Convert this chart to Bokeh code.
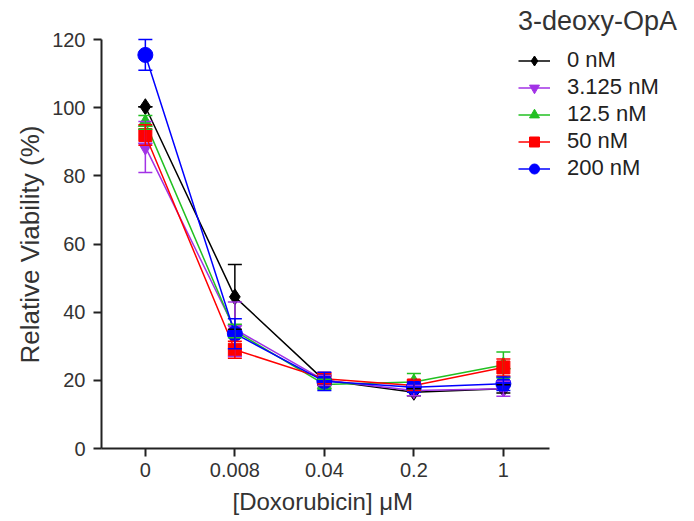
from bokeh.plotting import figure
from bokeh.models import (Range1d, FixedTicker, Legend, LegendItem, Whisker,
                          ColumnDataSource, TeeHead, Title)
from bokeh.embed import file_html
from bokeh.resources import INLINE

# ---- data ----
doses = ["0", "0.008", "0.04", "0.2", "1"]
series_names = ["0 nM", "3.125 nM", "12.5 nM", "50 nM", "200 nM"]
v_0 = [100.3, 44.5, 20.0, 16.5, 17.5]
e_0 = [0.0, 9.5, 1.5, 1.0, 1.2]
v_3 = [88.5, 35.0, 20.0, 17.0, 17.5]
e_3 = [7.5, 8.0, 1.5, 1.5, 2.2]
v_12 = [95.7, 34.5, 18.8, 19.5, 24.5]
e_12 = [2.0, 2.0, 1.5, 2.5, 3.8]
v_50 = [92.0, 29.0, 20.5, 18.5, 23.8]
e_50 = [3.0, 2.5, 1.5, 1.5, 2.5]
v_200 = [115.5, 33.7, 19.7, 18.0, 19.0]
e_200 = [4.5, 4.4, 2.7, 1.5, 2.0]
y_ticks = [0, 20, 40, 60, 80, 100, 120]

values = [v_0, v_3, v_12, v_50, v_200]
errors = [e_0, e_3, e_12, e_50, e_200]
colors = ["#000000", "#a232e6", "#22c022", "#ff0000", "#0000ff"]
markers = ["diamond", "inverted_triangle", "triangle", "square", "circle"]
sizes = [16, 14, 14, 13, 15]

FONT = "Liberation Sans"

p = figure(width=692, height=520, output_backend="svg", toolbar_location=None,
           x_range=Range1d(-0.49, 6.113), y_range=Range1d(0, 130.3),
           min_border_left=101, min_border_right=0, min_border_top=4,
           min_border_bottom=72)
p.outline_line_color = None
p.xgrid.visible = False
p.ygrid.visible = False
p.background_fill_color = "white"

xs = list(range(len(doses)))
items = []
for name, vals, errs, col, mk, sz in zip(series_names, values, errors, colors, markers, sizes):
    src = ColumnDataSource(dict(x=xs, y=vals,
                                lo=[v - e for v, e in zip(vals, errs)],
                                hi=[v + e for v, e in zip(vals, errs)]))
    w = Whisker(source=src, base="x", upper="hi", lower="lo", dimension="height",
                line_color=col, line_width=1.5, level="glyph",
                upper_head=TeeHead(size=14, line_color=col, line_width=1.5),
                lower_head=TeeHead(size=14, line_color=col, line_width=1.5))
    p.add_layout(w)
    ln = p.line("x", "y", source=src, line_color=col, line_width=1.5)
    sc = p.scatter("x", "y", source=src, marker=mk, size=sz,
                   fill_color=col, line_color=col)
    items.append(LegendItem(label=name, renderers=[ln, sc]))

legend = Legend(items=items, location=(417, 267), title="3-deoxy-OpA",
                title_text_font=FONT, title_text_font_size="27px",
                title_text_font_style="normal", title_text_color="#333333",
                title_standoff=10,
                label_text_font=FONT, label_text_font_size="22px",
                label_text_color="#222222",
                glyph_width=32, glyph_height=25, label_height=25,
                label_standoff=17, spacing=1, padding=0, margin=0,
                border_line_color=None, background_fill_alpha=0)
p.add_layout(legend, "center")

# axes
p.xaxis.ticker = FixedTicker(ticks=xs)
p.xaxis.major_label_overrides = {i: d for i, d in enumerate(doses)}
p.xaxis.bounds = (-0.49, 4.52)
p.yaxis.ticker = FixedTicker(ticks=y_ticks)
p.yaxis.bounds = (0, 120)
for ax in (p.xaxis[0], p.yaxis[0]):
    ax.axis_line_width = 2
    ax.axis_line_color = "#222222"
    ax.major_tick_line_color = "#222222"
    ax.major_tick_line_width = 2
    ax.major_tick_in = 0
    ax.major_tick_out = 8
    ax.minor_tick_line_color = None
    ax.major_label_text_font = FONT
    ax.major_label_text_font_size = "20px"
    ax.major_label_text_color = "#333333"
p.xaxis.major_label_standoff = 6
p.yaxis.major_label_standoff = 8

xtitle = Title(text="[Doxorubicin] μM", align="left", offset=131,
               standoff=12, text_font=FONT, text_font_size="24px",
               text_font_style="normal", text_color="#333333",
               text_line_height=0.7)
p.add_layout(xtitle, "below")

ytitle = Title(text="Relative Viability (%)", align="left", offset=85,
               standoff=10, text_font=FONT, text_font_size="26px",
               text_font_style="normal", text_color="#333333")
p.add_layout(ytitle, "left")

open("out.html", "w").write(file_html(p, INLINE))
